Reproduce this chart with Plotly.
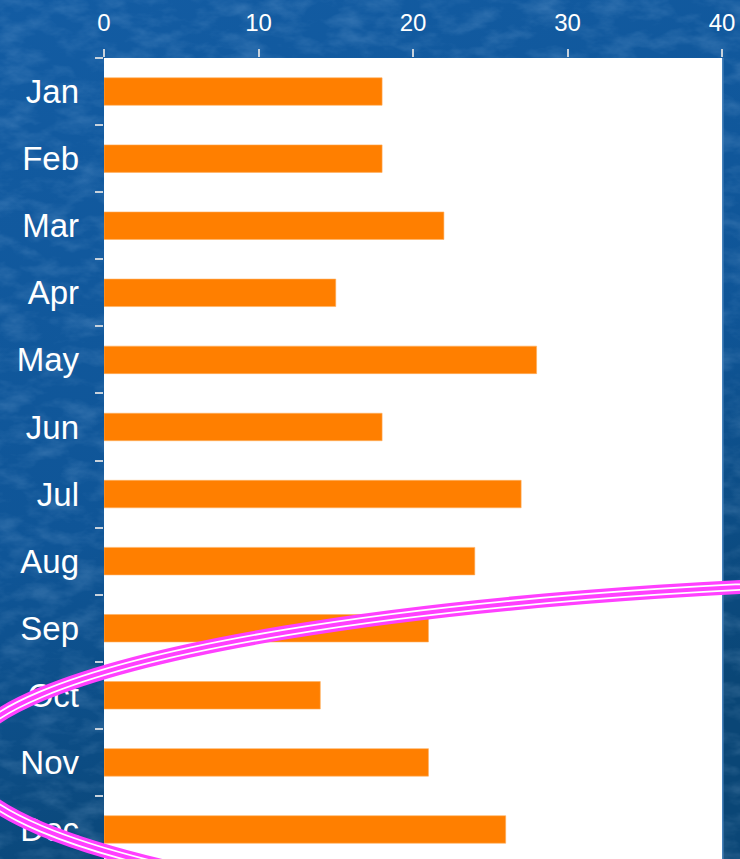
import base64
import plotly.graph_objects as go

months = ["Jan", "Feb", "Mar", "Apr", "May", "Jun", "Jul", "Aug", "Sep", "Oct", "Nov", "Dec"]
values = [18, 18, 22, 15, 28, 18, 27, 24, 21, 14, 21, 26]
x_ticks = [0, 10, 20, 30, 40]

W, H = 740, 859
ML, MR, MT, MB = 104, 18, 58, 0
PW, PH = W - ML - MR, H - MT - MB


def px(x):
    return (x - ML) / PW


def py(y):
    return (H - y) / PH


svg = f"""<svg xmlns='http://www.w3.org/2000/svg' width='{W}' height='{H}'>
<defs>
<linearGradient id='g' x1='0' y1='0' x2='0.3' y2='1'>
<stop offset='0' stop-color='#135ca3'/><stop offset='0.6' stop-color='#0f5597'/><stop offset='1' stop-color='#0a4676'/>
</linearGradient>
<filter id='n' x='0' y='0' width='100%' height='100%'>
<feTurbulence type='fractalNoise' baseFrequency='0.03 0.06' numOctaves='4' seed='7'/>
<feColorMatrix type='matrix' values='0 0 0 0 0.55  0 0 0 0 0.75  0 0 0 0 1  1.2 0 0 0 -0.5'/>
</filter>
</defs>
<rect width='100%' height='100%' fill='url(#g)'/>
<rect width='100%' height='100%' filter='url(#n)' opacity='0.3'/>
</svg>"""
bg_src = "data:image/svg+xml;base64," + base64.b64encode(svg.encode()).decode()

fig = go.Figure(
    go.Bar(
        x=values,
        y=months,
        orientation="h",
        width=0.41,
        marker=dict(color="#ff7f00", line=dict(color="#ffb060", width=0.6)),
    )
)

shapes = [
    dict(type="rect", xref="paper", yref="paper", x0=0, x1=1, y0=0, y1=1,
         fillcolor="white", line=dict(width=0), layer="below"),
    dict(type="line", xref="paper", yref="paper", x0=px(722.8), x1=px(722.8), y0=0, y1=1,
         line=dict(color="#4a84bc", width=1.5), layer="above"),
]
# decorative triple-stroke ellipse
ex0, ex1, ey0, ey1 = -36, 2160, 579, 944
for col, w in [("#ff40ff", 14), ("white", 7.5), ("#ff40ff", 4)]:
    shapes.append(dict(type="circle", xref="paper", yref="paper",
                       x0=px(ex0), x1=px(ex1), y0=py(ey1), y1=py(ey0),
                       line=dict(color=col, width=w), fillcolor="rgba(0,0,0,0)",
                       layer="above"))

fig.update_layout(
    width=W, height=H,
    margin=dict(l=ML, r=MR, t=MT, b=MB, pad=0),
    paper_bgcolor="#115799",
    plot_bgcolor="rgba(0,0,0,0)",
    showlegend=False,
    images=[dict(source=bg_src, xref="paper", yref="paper", x=px(0), y=py(0),
                 sizex=W / PW, sizey=H / PH, sizing="stretch", layer="below",
                 xanchor="left", yanchor="top")],
    shapes=shapes,
    xaxis=dict(
        side="top", range=[0, 40], tickvals=x_ticks, ticktext=[str(v) for v in x_ticks],
        showgrid=False, zeroline=False, showline=False,
        ticks="outside", ticklen=8, tickwidth=1.5, tickcolor="#c8d2dc",
        tickfont=dict(family="Liberation Sans, Arial, sans-serif", size=24, color="white"),
        ticklabelstandoff=8, automargin=False, fixedrange=True,
    ),
    yaxis=dict(
        categoryorder="array", categoryarray=months,
        range=[11.44, -0.5],
        showgrid=False, zeroline=False, showline=False,
        ticks="outside", ticklen=8, tickwidth=1.5, tickcolor="#c8d2dc",
        tickson="boundaries",
        tickfont=dict(family="Liberation Sans, Arial, sans-serif", size=33, color="white"),
        ticklabelstandoff=24, automargin=False, fixedrange=True,
    ),
)

fig.write_html(
    "out.html",
    config={"displayModeBar": False},
    post_script="document.body.style.margin='0';document.body.style.overflow='hidden';",
)
